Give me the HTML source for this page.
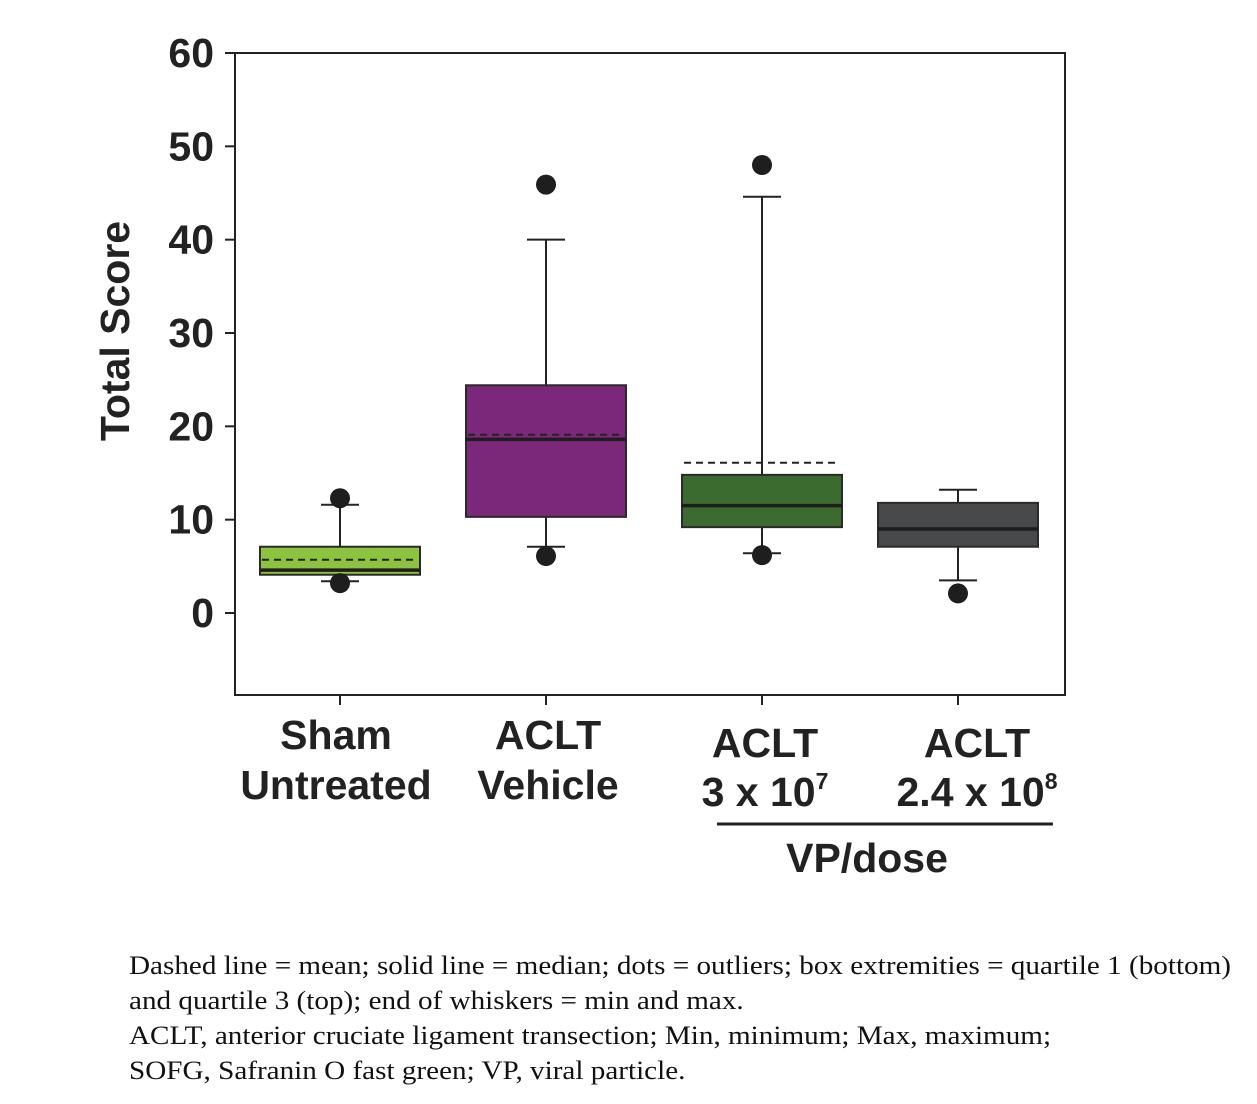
<!DOCTYPE html>
<html><head><meta charset="utf-8">
<style>
body{margin:0;background:#fff;width:1257px;height:1104px;overflow:hidden;position:relative;font-family:"Liberation Sans",sans-serif}
.cap{position:absolute;left:129px;top:948px;font-family:"Liberation Serif",serif;font-size:26.5px;line-height:35px;color:#111;white-space:nowrap;transform:scaleX(1.1);transform-origin:0 0}
</style></head><body>
<svg id="chart" width="1257" height="930" style="position:absolute;left:0;top:0" font-family="Liberation Sans, sans-serif"></svg>
<div class="cap">Dashed line = mean; solid line = median; dots = outliers; box extremities = quartile 1 (bottom)<br>and quartile 3 (top); end of whiskers = min and max.<br>ACLT, anterior cruciate ligament transection; Min, minimum; Max, maximum;<br>SOFG, Safranin O fast green; VP, viral particle.</div>
<script>
const groups=["sham","vehicle","dose-3e7","dose-2.4e8"];
const q1=[4.1,10.3,9.2,7.1];
const q3=[7.1,24.4,14.8,11.8];
const medians=[4.6,18.6,11.5,9.0];
const means=[5.7,19.1,16.1,9.0];
const mins=[3.4,7.1,6.4,3.5];
const maxs=[11.6,40,44.6,13.2];
const outliers=[[12.3,3.2],[45.9,6.1],[48,6.2],[2.1]];
const yTicks=[0,10,20,30,40,50,60];
const colors=["#8cc43f","#7b287a","#3c6b2f","#48494b"];
const showMean=[true,true,true,false];
const NS="http://www.w3.org/2000/svg";
const svg=document.getElementById('chart');
const L=235,R=1065,T=53,B=695;
function y(v){return 613-v*(560/60);}
function x(i){return [340,546,762,958][i];}
const BW=160,CW=38;
function mk(t,a,p){const e=document.createElementNS(NS,t);for(const k in a)e.setAttribute(k,a[k]);(p||svg).appendChild(e);return e;}
let f=mk('rect',{x:L,y:T,width:R-L,height:B-T,fill:'none',stroke:'#222','stroke-width':2});


yTicks.forEach(t=>{
 const g=mk('g',{});
 
 
 mk('line',{x1:L-10,x2:L,y1:y(t),y2:y(t),stroke:'#222','stroke-width':2},g);
 const tx=mk('text',{x:L-21,y:y(t)+14,'text-anchor':'end','font-size':41,'font-weight':'bold',fill:'#222'},g);tx.textContent=t;
});
const yt=mk('text',{transform:'translate(129,331) rotate(-90)','text-anchor':'middle','font-size':41,'font-weight':'bold',fill:'#222'});
yt.textContent='Total Score';


groups.forEach((gname,i)=>{
 const g=mk('g',{});
 
 
 const cx=x(i);
 mk('line',{x1:cx,x2:cx,y1:y(maxs[i]),y2:y(q3[i]),stroke:'#222','stroke-width':2},g);
 mk('line',{x1:cx,x2:cx,y1:y(q1[i]),y2:y(mins[i]),stroke:'#222','stroke-width':2},g);
 mk('line',{x1:cx-CW/2,x2:cx+CW/2,y1:y(maxs[i]),y2:y(maxs[i]),stroke:'#222','stroke-width':2},g);
 mk('line',{x1:cx-CW/2,x2:cx+CW/2,y1:y(mins[i]),y2:y(mins[i]),stroke:'#222','stroke-width':2},g);
 mk('rect',{x:cx-BW/2,y:y(q3[i]),width:BW,height:y(q1[i])-y(q3[i]),fill:colors[i],stroke:'#2a2a2a','stroke-width':2},g);
 if(showMean[i]) mk('line',{x1:cx-BW/2+2,x2:cx+BW/2-2,y1:y(means[i]),y2:y(means[i]),stroke:'#222','stroke-width':2,'stroke-dasharray':'7,5'},g);
 mk('line',{x1:cx-BW/2,x2:cx+BW/2,y1:y(medians[i]),y2:y(medians[i]),stroke:'#1e1e1e','stroke-width':3.5},g);
 outliers[i].forEach(o=>{
  const c=mk('circle',{cx:cx,cy:y(o),r:10,fill:'#1e1e1e'},g);
  
  
 });
 mk('line',{x1:cx,x2:cx,y1:B,y2:B+10,stroke:'#222','stroke-width':2},g);
});
const labels=[[["Sham",749],["Untreated",799]],[["ACLT",749],["Vehicle",799]],[["ACLT",757],["3 x 10<tspan font-size='23' dy='-17'>7</tspan>",806]],[["ACLT",757],["2.4 x 10<tspan font-size='23' dy='-17'>8</tspan>",806]]];
const lx=[-4,2,3,19];
labels.forEach((ls,i)=>{
 ls.forEach(([t,yy],j)=>{
  const tx=mk('text',{x:x(i)+lx[i],y:yy,'text-anchor':'middle','font-size':41,'font-weight':'bold',fill:'#222'});
  tx.innerHTML=t;
  
  
 });
});
const br=mk('line',{x1:717,x2:1053,y1:824,y2:824,stroke:'#222','stroke-width':3});


const vp=mk('text',{x:867,y:872,'text-anchor':'middle','font-size':41,'font-weight':'bold',fill:'#222'});
vp.textContent='VP/dose';


</script>
</body></html>
